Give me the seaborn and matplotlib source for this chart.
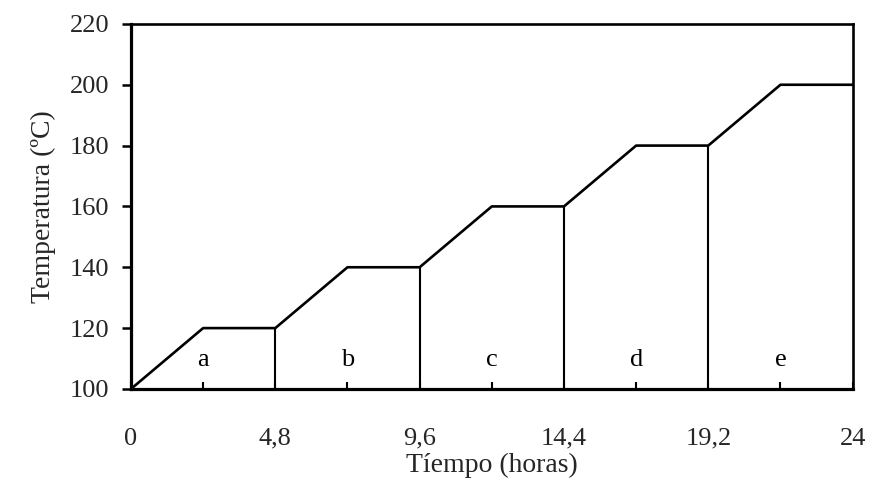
import numpy as np
import pandas as pd
import matplotlib.pyplot as plt
import seaborn as sns

# temperature profile (time in hours, temperature in ºC)
tiempo = [0, 2.4, 4.8, 7.2, 9.6, 12.0, 14.4, 16.8, 19.2, 21.6, 24]
temperatura = [100, 120, 120, 140, 140, 160, 160, 180, 180, 200, 200]

# vertical separators between stages
sep_x = [4.8, 9.6, 14.4, 19.2]
sep_top = [120, 140, 160, 180]

# stage labels
etapas = ["a", "b", "c", "d", "e"]
etapa_x = [2.4, 7.2, 12.0, 16.8, 21.6]
etapa_y = [109.5, 109.5, 109.5, 109.5, 109.5]

xticks = [0, 4.8, 9.6, 14.4, 19.2, 24]
xticklabels = ["0", "4,8", "9,6", "14,4", "19,2", "24"]
yticks = [100, 120, 140, 160, 180, 200, 220]

sns.set_theme(style="white")
plt.rcParams["font.family"] = ["Liberation Serif", "DejaVu Serif"]

df = pd.DataFrame({"t": tiempo, "T": temperatura})

fig = plt.figure(figsize=(8.79, 4.88), dpi=100)
ax = fig.add_axes([0.149, 0.203, 0.821, 0.748])

sns.lineplot(data=df, x="t", y="T", ax=ax, color="black", linewidth=1.9,
             sort=False, estimator=None)
ax.vlines(sep_x, 100, sep_top, color="black", linewidth=1.5)

for lab, x, y in zip(etapas, etapa_x, etapa_y):
    ax.text(x, y, lab, ha="center", va="center", fontsize=19, color="black")

ax.set_xlim(0, 24)
ax.set_ylim(100, 220)
ax.set_xticks(xticks)
ax.set_xticklabels(xticklabels, fontsize=19)
ax.set_xticks(etapa_x, minor=True)
ax.set_yticks(yticks)
ax.set_yticklabels([str(v) for v in yticks], fontsize=19)

ax.tick_params(axis="x", which="both", direction="in", length=5, width=1.5,
               pad=28, color="black", bottom=True)
ax.tick_params(axis="y", direction="out", length=6.5, width=1.8, pad=9,
               color="black", left=True)

for side in ["left", "bottom"]:
    ax.spines[side].set_linewidth(2.3)
for side in ["top", "right"]:
    ax.spines[side].set_linewidth(1.9)
for sp in ax.spines.values():
    sp.set_color("black")

ax.set_xlabel("Tíempo (horas)", fontsize=20, labelpad=2)
ax.set_ylabel("Temperatura (ºC)", fontsize=20, labelpad=10)

fig.savefig("out.png", dpi=100)
